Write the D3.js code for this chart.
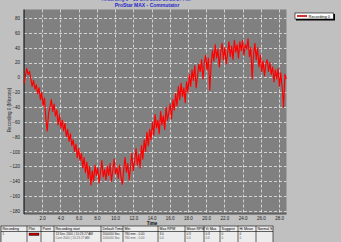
<!DOCTYPE html>
<html>
<head>
<meta charset="utf-8">
<script src="https://cdn.jsdelivr.net/npm/d3@7"></script>
<style>
  html, body { margin: 0; padding: 0; background: #c0c0c0; overflow: hidden; }
  svg { display: block; font-family: "Liberation Sans", Arial, sans-serif; }
</style>
</head>
<body>
<svg id="chart" width="341" height="242"></svg>
<script>
'use strict'

// recording samples, one every 0.15 s starting at t = 0
const sampleStep = 0.15
const recording0 = [
  -8, 2, 12, 4, 8, -2, -12, -4, -16, -10,
  -22, -14, -30, -20, -38, -28, -56, -72, -48, -40,
  -30, -46, -36, -52, -44, -64, -50, -68, -58, -72,
  -62, -80, -70, -86, -76, -92, -84, -100, -90, -108,
  -96, -112, -102, -122, -108, -128, -114, -136, -120, -145,
  -126, -140, -118, -132, -122, -142, -128, -112, -134, -124,
  -138, -120, -132, -116, -140, -126, -110, -130, -122, -136,
  -118, -134, -144, -124, -108, -128, -116, -138, -120, -102,
  -126, -112, -96, -118, -104, -122, -92, -110, -84, -100,
  -74, -92, -70, -84, -60, -78, -50, -68, -58, -76,
  -46, -64, -52, -70, -40, -58, -48, -36, -56, -30,
  -44, -22, -38, -12, -30, -8, -26, -14, -34, -6,
  -20, 4, -12, 10, -4, 16, -14, 2, 18, 8,
  24, -2, 20, 30, 10, 26, -17, 18, 36, 22,
  44, 26, 38, 14, 34, 46, 24, 40, 18, 32,
  48, 28, 42, 24, 50, 34, 44, 26, 48, 36,
  50, 30, 44, 38, 52, 28, 40, -2, 30, 46,
  24, 40, 14, 30, 8, 22, 2, 18, 24, 8,
  20, 4, 14, -6, 10, -2, 12, -12, 6, -14,
  -40, 4, -2
]

const xTicks = [2, 4, 6, 8, 10, 12, 14, 16, 18, 20, 22, 24, 26, 28]
const yTicks = [80, 60, 40, 20, 0, -20, -40, -60, -80, -100, -120, -140, -160, -180]

const titleText = 'ProStar MAX - Commutator'
const subTitleText = 'Recording 0 - 13 Dec 2000 10:23:27 AM'
const seriesName = 'Recording 0'
const yTitle = 'Recording 0 (Microns)'
const xTitle = 'Time'

const tableHeaders = ['Recording', 'Plot', 'Point', 'Recording start', 'Default Time', 'Min', 'Max RPM', 'Mean RPM', 'Vi Max', 'Suggest', 'Hi Mean', 'Normal S']
const tableLine1 = ['1', '', '', '13 Dec 2000 | 10:23:27 AM', '2000/00 Sec', '780 mm - 0.00', '3.0', '0.3', '0.3', '0', '0', '']
const tableLine2 = ['', '', '', 'Cont 2000 | 10:23:27 AM', '1000/00 Sec', '780 mm - 0.00', '0.0', '0.0', '0.0', '0', '0', '']
const tableCols = [1, 27, 41, 54, 101, 123, 158, 185, 204, 220, 238, 256, 273]

const plot = {left: 24, right: 286.5, top: 9.5, bottom: 214}

const svg = d3.select('#chart')

svg.append('rect')
  .attr('width', 341).attr('height', 242)
  .attr('fill', '#c0c0c0')

const x = d3.scaleLinear().domain([0, 28]).range([24, 279])
const y = d3.scaleLinear().domain([-180, 80]).range([211, 18])

// plot background
svg.append('rect')
  .attr('x', plot.left).attr('y', plot.top)
  .attr('width', plot.right - plot.left)
  .attr('height', plot.bottom - plot.top)
  .attr('fill', '#808080')

// grid
const grid = svg.append('g').attr('stroke', '#e8e8e8').attr('stroke-width', 0.8).attr('stroke-dasharray', '3,2')
grid.selectAll('.vgrid').data(xTicks).enter()
  .append('line')
    .attr('class', 'vgrid')
    .attr('x1', d => Math.round(x(d)) + 0.5).attr('x2', d => Math.round(x(d)) + 0.5)
    .attr('y1', plot.top).attr('y2', plot.bottom)
grid.selectAll('.hgrid').data(yTicks).enter()
  .append('line')
    .attr('class', 'hgrid')
    .attr('x1', plot.left).attr('x2', plot.right)
    .attr('y1', d => Math.round(y(d)) + 0.5).attr('y2', d => Math.round(y(d)) + 0.5)

// axes lines
svg.append('line')
  .attr('x1', plot.left).attr('x2', plot.left)
  .attr('y1', plot.top).attr('y2', plot.bottom)
  .attr('stroke', '#000').attr('stroke-width', 1)
svg.append('line')
  .attr('x1', plot.left).attr('x2', plot.right)
  .attr('y1', plot.bottom).attr('y2', plot.bottom)
  .attr('stroke', '#303030').attr('stroke-width', 0.8)

// tick labels
const xAxis = d3.axisBottom(x).tickValues(xTicks).tickFormat(d3.format('.1f')).tickSize(0).tickPadding(3)
const gx = svg.append('g').attr('transform', 'translate(0,' + plot.bottom + ')').call(xAxis)
gx.select('.domain').remove()
gx.selectAll('text').attr('font-size', 4.5).attr('fill', '#202020').attr('font-family', '"Liberation Sans", Arial, sans-serif')

const yAxis = d3.axisLeft(y).tickValues(yTicks).tickSize(0).tickPadding(4)
const gy = svg.append('g').attr('transform', 'translate(' + plot.left + ',0)').call(yAxis)
gy.select('.domain').remove()
gy.selectAll('text').attr('font-size', 4.5).attr('fill', '#202020').attr('font-family', '"Liberation Sans", Arial, sans-serif')

// data line
const line = d3.line()
  .x((d, i) => x(i * sampleStep))
  .y(d => y(d))

svg.append('path')
  .datum(recording0)
  .attr('d', line)
  .attr('fill', 'none')
  .attr('stroke', '#ff0000')
  .attr('stroke-width', 1.2)
  .attr('stroke-linejoin', 'round')

// titles
svg.append('text')
  .attr('x', 146).attr('y', 0.5)
  .attr('text-anchor', 'middle')
  .attr('font-size', 5).attr('fill', '#2828c8')
  .text(subTitleText)
svg.append('text')
  .attr('x', 147).attr('y', 7)
  .attr('text-anchor', 'middle')
  .attr('font-size', 5).attr('font-weight', 'bold').attr('fill', '#2828c8')
  .text(titleText)

svg.append('text')
  .attr('transform', 'translate(11,110) rotate(-90)')
  .attr('text-anchor', 'middle')
  .attr('font-size', 4.5).attr('fill', '#202020')
  .text(yTitle)

svg.append('text')
  .attr('x', 152).attr('y', 225)
  .attr('text-anchor', 'middle')
  .attr('font-size', 4.5).attr('font-weight', 'bold').attr('fill', '#000')
  .text(xTitle)

// legend
const legend = svg.append('g').attr('transform', 'translate(295,13)')
legend.append('rect')
  .attr('x', 1).attr('y', 1).attr('width', 39).attr('height', 6.5)
  .attr('fill', '#000')
legend.append('rect')
  .attr('x', 0).attr('y', 0).attr('width', 38.5).attr('height', 6)
  .attr('fill', '#fff').attr('stroke', '#000').attr('stroke-width', 0.6)
legend.append('line')
  .attr('x1', 2).attr('x2', 12).attr('y1', 3).attr('y2', 3)
  .attr('stroke', '#c00000').attr('stroke-width', 1.6)
legend.append('text')
  .attr('x', 13.5).attr('y', 4.6)
  .attr('font-size', 4).attr('fill', '#000')
  .text(seriesName)

// table at the bottom
const table = svg.append('g').attr('transform', 'translate(0,226)')
table.append('rect')
  .attr('x', tableCols[0]).attr('y', 0)
  .attr('width', tableCols[tableCols.length - 1] - tableCols[0]).attr('height', 17)
  .attr('fill', '#ececec').attr('stroke', '#000').attr('stroke-width', 0.6)
table.append('line')
  .attr('x1', tableCols[0]).attr('x2', tableCols[tableCols.length - 1])
  .attr('y1', 5.5).attr('y2', 5.5)
  .attr('stroke', '#000').attr('stroke-width', 0.6)
table.selectAll('.col').data(tableCols.slice(1, -1)).enter()
  .append('line')
    .attr('class', 'col')
    .attr('x1', d => d).attr('x2', d => d)
    .attr('y1', 0).attr('y2', 17)
    .attr('stroke', '#000').attr('stroke-width', 0.6)
table.selectAll('.head').data(tableHeaders).enter()
  .append('text')
    .attr('class', 'head')
    .attr('x', (d, i) => tableCols[i] + 1.5).attr('y', 4.3)
    .attr('font-size', 3.6).attr('fill', '#000')
    .text(d => d)
table.selectAll('.row1').data(tableLine1).enter()
  .append('text')
    .attr('class', 'row1')
    .attr('x', (d, i) => tableCols[i] + 1.5).attr('y', 9.3)
    .attr('font-size', 3.1).attr('fill', '#202020')
    .text(d => d)
table.selectAll('.row2').data(tableLine2).enter()
  .append('text')
    .attr('class', 'row2')
    .attr('x', (d, i) => tableCols[i] + 1.5).attr('y', 13)
    .attr('font-size', 3.1).attr('fill', '#606060')
    .text(d => d)
table.append('rect')
  .attr('x', tableCols[1] + 2).attr('y', 7).attr('width', 10).attr('height', 2.5)
  .attr('fill', '#c00000').attr('stroke', '#000').attr('stroke-width', 0.4)
</script>
</body>
</html>
